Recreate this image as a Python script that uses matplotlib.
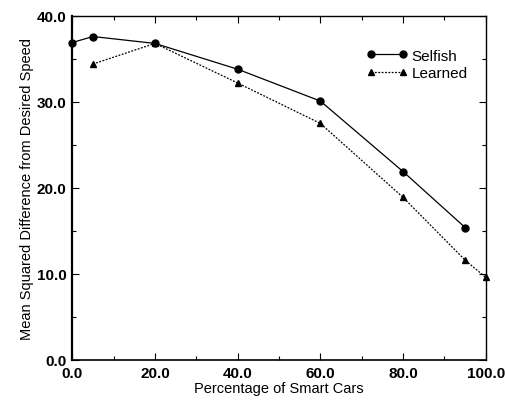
from matplotlib import pyplot as plt
from matplotlib.ticker import MultipleLocator

plt.rcParams['font.family'] = ['Liberation Sans', 'DejaVu Sans']

# data
selfish_x = [0, 5, 20, 40, 60, 80, 95]
selfish_y = [36.9, 37.6, 36.8, 33.8, 30.1, 21.9, 15.4]
learned_x = [5, 20, 40, 60, 80, 95, 100]
learned_y = [34.4, 36.8, 32.2, 27.5, 18.9, 11.6, 9.6]

fig = plt.figure(figsize=(5.05, 4.02), dpi=100)
ax = fig.add_axes([0.143, 0.102, 0.819, 0.856])

ax.plot(selfish_x, selfish_y, color='black', lw=0.9, marker='o', ms=5,
        label='Selfish', clip_on=False, zorder=3)
ax.plot(learned_x, learned_y, color='black', lw=0.9, ls=(0, (1.5, 1.2)),
        marker='^', ms=4.5, label='Learned', clip_on=False, zorder=3)

ax.set_xlim(0, 100)
ax.set_ylim(0, 40)
ax.xaxis.set_major_locator(MultipleLocator(20))
ax.xaxis.set_minor_locator(MultipleLocator(10))
ax.yaxis.set_major_locator(MultipleLocator(10))
ax.yaxis.set_minor_locator(MultipleLocator(5))
ax.xaxis.set_major_formatter(plt.FormatStrFormatter('%.1f'))
ax.yaxis.set_major_formatter(plt.FormatStrFormatter('%.1f'))
ax.tick_params(which='both', direction='in', top=True, right=True, width=0.8)
ax.tick_params(which='major', length=5, labelsize=11)
ax.tick_params(axis='x', which='major', pad=4)
ax.tick_params(axis='y', which='major', pad=4)
ax.tick_params(which='minor', length=3)
for lab in ax.get_xticklabels() + ax.get_yticklabels():
    lab.set_fontweight('bold')
ax.spines['left'].set_linewidth(1.6)
ax.spines['bottom'].set_linewidth(1.2)
for s in ['top', 'right']:
    ax.spines[s].set_linewidth(1.0)

ax.set_xlabel('Percentage of Smart Cars', fontsize=10.5, labelpad=1)
ax.set_ylabel('Mean Squared Difference from Desired Speed', fontsize=10.5, labelpad=2)

ax.legend(loc='upper right', bbox_to_anchor=(0.99, 0.945), frameon=False,
          numpoints=2, fontsize=11, handlelength=2.7, handletextpad=0.3,
          labelspacing=0.25)

plt.savefig('out.png', dpi=100)
